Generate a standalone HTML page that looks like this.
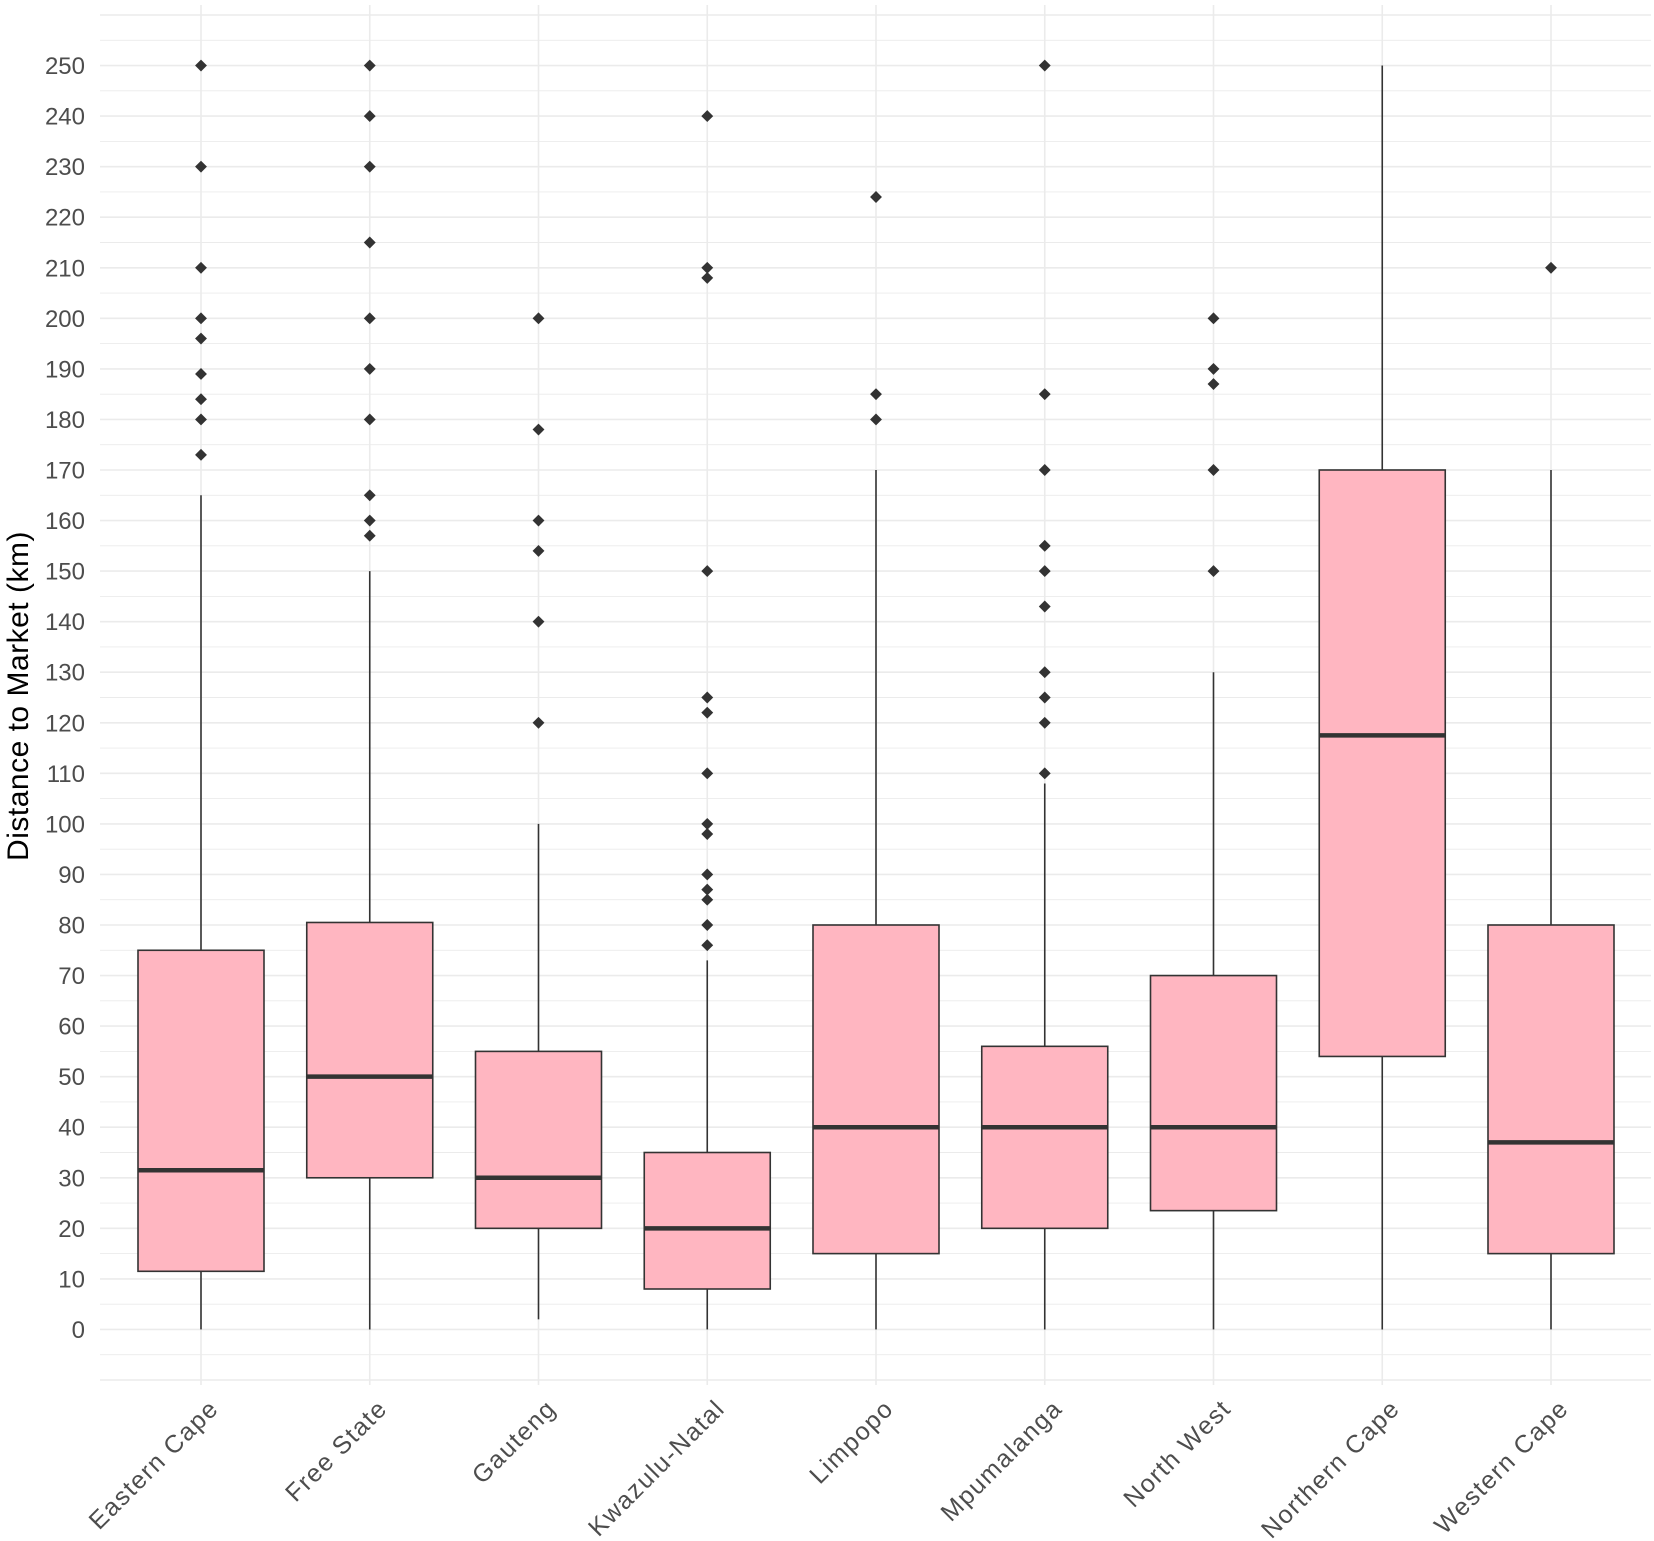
<!DOCTYPE html>
<html><head><meta charset="utf-8"><style>body{margin:0;background:#fff}svg{display:block;font-family:"Liberation Sans",Arial,sans-serif}</style></head>
<body>
<svg id="chart" width="1654" height="1541" viewBox="0 0 1654 1541"></svg>
<script>
const categories=["Eastern Cape","Free State","Gauteng","Kwazulu-Natal","Limpopo","Mpumalanga","North West","Northern Cape","Western Cape"];
const whiskerLow=[0,0,2,0,0,0,0,0,0];
const q1=[11.5,30,20,8,15,20,23.5,54,15];
const medians=[31.5,50,30,20,40,40,40,117.5,37];
const q3=[75,80.5,55,35,80,56,70,170,80];
const whiskerHigh=[165,150,100,73,170,108,130,250,170];
const outliers=[[250,230,210,200,196,189,184,180,173],[250,240,230,215,200,190,180,165,160,157],[200,178,160,154,140,120],[240,210,208,150,125,122,110,100,98,90,87,85,80,76],[224,185,180],[250,185,170,155,150,143,130,125,120,110],[200,190,187,170,150],[],[210]];
const yTicks=[0,10,20,30,40,50,60,70,80,90,100,110,120,130,140,150,160,170,180,190,200,210,220,230,240,250];
const NS="http://www.w3.org/2000/svg",svg=document.getElementById("chart");
const L=100,R=1651,T=15,B=1380,yMin=-10,yMax=260;
const y=v=>B-(v-yMin)/(yMax-yMin)*(B-T);
const x=i=>201+i*168.75;
function mk(t,a,p){const e=document.createElementNS(NS,t);for(const k in a)e.setAttribute(k,a[k]);(p||svg).appendChild(e);return e;}
for(let v=-10;v<=260;v+=5){const g=mk("line",{x1:L,x2:R,y1:y(v),y2:y(v),stroke:"#ebebeb","stroke-width":v%10===0?1.6:0.9});

}
categories.forEach((c,i)=>{const g=mk("line",{x1:x(i),x2:x(i),y1:T-10,y2:B+5,stroke:"#ebebeb","stroke-width":1.6});

});
yTicks.forEach(v=>{const t=mk("text",{x:85,y:y(v)+8.5,"text-anchor":"end","font-size":24,fill:"#4d4d4d"});t.textContent=v;

});
categories.forEach((c,i)=>{const cx=x(i),hw=63;
const g=mk("g",{});


mk("line",{x1:cx,x2:cx,y1:y(whiskerLow[i]),y2:y(q1[i]),stroke:"#333","stroke-width":1.6},g);
mk("line",{x1:cx,x2:cx,y1:y(q3[i]),y2:y(whiskerHigh[i]),stroke:"#333","stroke-width":1.6},g);
mk("rect",{x:cx-hw,y:y(q3[i]),width:2*hw,height:y(q1[i])-y(q3[i]),fill:"#ffb6c1",stroke:"#333","stroke-width":1.6},g);
mk("line",{x1:cx-hw,x2:cx+hw,y1:y(medians[i]),y2:y(medians[i]),stroke:"#333","stroke-width":4.5},g);
outliers[i].forEach(v=>{const p=mk("rect",{x:cx-4.2,y:y(v)-4.2,width:8.4,height:8.4,fill:"#333",transform:`rotate(45 ${cx} ${y(v)})`},g);

});
const t=mk("text",{x:cx+19,y:1410,"text-anchor":"end","font-size":25,"letter-spacing":1.5,fill:"#4d4d4d",transform:`rotate(-45 ${cx+19} 1410)`});t.textContent=c;

});
const yt=mk("text",{x:28,y:696,"text-anchor":"middle","font-size":30,"letter-spacing":0.5,fill:"#000",transform:"rotate(-90 28 696)"});yt.textContent="Distance to Market (km)";


</script>
</body></html>
